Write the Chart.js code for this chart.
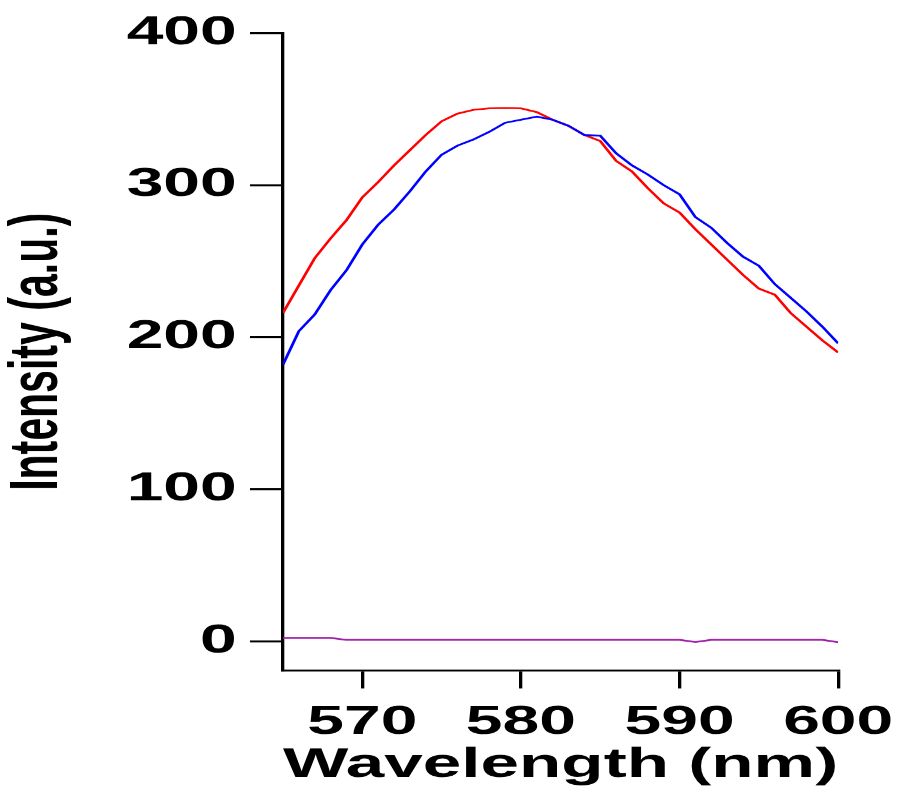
<!DOCTYPE html>
<html>
<head>
<meta charset="utf-8">
<script src="https://cdn.jsdelivr.net/npm/chart.js@4"></script>
<style>
  html, body { margin: 0; padding: 0; background: #fff; }
</style>
</head>
<body>
<canvas id="chart" width="545" height="786" style="display:block;width:899px;height:786px"></canvas>
<script>
// wavelength grid (nm)
var wavelengths = [565, 566, 567, 568, 569, 570, 571, 572, 573, 574, 575, 576,
  577, 578, 579, 580, 581, 582, 583, 584, 585, 586, 587, 588, 589, 590, 591,
  592, 593, 594, 595, 596, 597, 598, 599, 600];

var redValues = [216, 234, 252, 265, 277, 292, 302, 313, 323, 333, 342, 347,
  349.5, 350.5, 350.7, 350.5, 348, 343, 339, 333, 329, 316, 309, 298, 288, 282,
  271, 261, 251, 241, 232, 228, 216, 207, 198, 190];

var blueValues = [182, 204, 215, 231, 244, 261, 274, 284, 296, 309, 320, 326,
  330, 335, 341, 343, 345, 343, 339, 333, 332.5, 321, 313, 307, 300, 294, 279,
  272, 262, 253, 247, 235, 226, 217, 207, 196];

var purpleValues = [2.4, 2.4, 2.4, 2.4, 1.1, 1.1, 1.1, 1.1, 1.1, 1.1, 1.1, 1.1,
  1.1, 1.1, 1.1, 1.1, 1.1, 1.1, 1.1, 1.1, 1.1, 1.1, 1.1, 1.1, 1.1, 1.1, -0.3,
  1.1, 1.1, 1.1, 1.1, 1.1, 1.1, 1.1, 1.1, -0.4];

var xTicks = [570, 580, 590, 600];
var yTicks = [0, 100, 200, 300, 400];

function toPoints(values) {
  return wavelengths.map(function (w, i) { return { x: w, y: values[i] }; });
}

var fontFamily = "'Liberation Sans', Arial, sans-serif";

// the picture is horizontally stretched, so draw narrow and let css widen it
var ctx = document.getElementById("chart").getContext("2d");
var myChart = new Chart(ctx, {
  type: "line",
  data: {
    datasets: [
      { label: "purple", data: toPoints(purpleValues), borderColor: "#a020a8", borderWidth: 1.8 },
      { label: "blue", data: toPoints(blueValues), borderColor: "#0000ff", borderWidth: 1.8 },
      { label: "red", data: toPoints(redValues), borderColor: "#ff0000", borderWidth: 1.8 },
    ],
  },
  options: {
    responsive: false,
    devicePixelRatio: 1.65,
    animation: false,
    layout: { padding: { left: 0, right: 37, top: 33, bottom: 0 } },
    elements: { point: { radius: 0 }, line: { tension: 0 } },
    plugins: { legend: { display: false }, tooltip: { enabled: false } },
    scales: {
      x: {
        type: "linear",
        min: 565,
        max: 600,
        afterBuildTicks: function (scale) {
          scale.ticks = xTicks.map(function (v) { return { value: v }; });
        },
        afterFit: function (scale) {
          scale.height = 116;
          scale.paddingLeft = 0;
          scale.paddingRight = 0;
        },
        border: { display: true, color: "#000", width: 2 },
        grid: { drawOnChartArea: false, drawTicks: true, tickLength: 18, color: "#000", lineWidth: 2 },
        ticks: { color: "#000", padding: 10, maxRotation: 0, font: { family: fontFamily, size: 40, weight: "bold" } },
        title: {
          display: true,
          text: "Wavelength (nm)",
          color: "#000",
          padding: { top: 0, bottom: 0 },
          font: { family: fontFamily, size: 42, weight: "bold", lineHeight: 1 },
        },
      },
      y: {
        type: "linear",
        min: -19,
        max: 400,
        afterBuildTicks: function (scale) {
          scale.ticks = yTicks.map(function (v) { return { value: v }; });
        },
        afterFit: function (scale) { scale.width = 171.5; },
        border: { display: true, color: "#000", width: 2 },
        grid: { drawOnChartArea: false, drawTicks: true, tickLength: 20, color: "#000", lineWidth: 2 },
        ticks: { color: "#000", padding: 8, font: { family: fontFamily, size: 40, weight: "bold" } },
        title: {
          display: true,
          text: "Intensity (a.u.)",
          color: "#000",
          padding: { top: 3, bottom: 0 },
          font: { family: fontFamily, size: 41, weight: "bold", lineHeight: 1 },
        },
      },
    },
  },
});
</script>
</body>
</html>
